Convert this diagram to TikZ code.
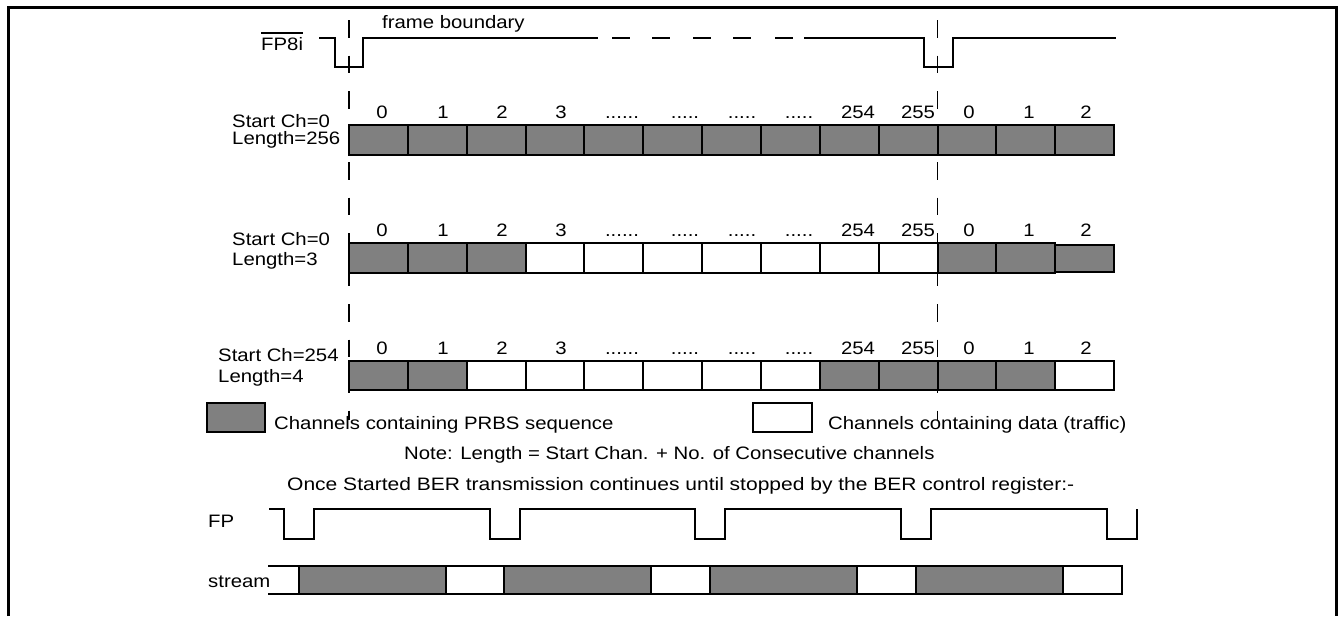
\documentclass[tikz,border=0pt]{standalone}
\usepackage{fontspec}
\setmainfont{Liberation Sans}[FakeStretch=1.13]
\definecolor{prbs}{RGB}{128,128,128}
\newcommand\dotsix{......}
\newcommand\dotfive{.....}
\tikzset{
  sig/.style={line width=2pt, line join=miter},
  cellp/.style={draw, fill=prbs, line width=2pt},
  celld/.style={draw, fill=white, line width=2pt},
  fbound/.style={line width=1.8pt, dash pattern=on 17.5pt off 18pt},
  txt/.style={anchor=base west, inner sep=0pt},
  num/.style={anchor=base, inner sep=0pt}
}
\begin{document}
\begin{tikzpicture}[x=1pt, y=-1pt, font=\fontsize{18}{20}\selectfont, line join=miter]
	\def\xo{349}\def\cw{58.85}\def\xf{937.5}
	\useasboundingbox (0,0) rectangle (1338,616);
	\draw[line width=3pt] (8,616) -- (8,7) -- (1336,7) -- (1336,616);
	% frame pulse
	\node[txt] (fpi) at (261,50) {FP8i};
	\draw[line width=1.5pt] ([yshift=4pt]fpi.north west) -- ([yshift=4pt]fpi.north east);
	\node[txt] (fbtxt) at (382,28) {frame boundary};
	\draw[sig] (319,38) -- (335,38) -- (335,67) -- (363,67) -- (363,38) -- (598,38);
	\foreach \x in {612,652,693,733,775} \draw[sig] (\x,38) -- ++(18,0);
	\draw[sig] (804,38) -- (923.5,38) -- (923.5,67) -- (953,67) -- (953,38) -- (1116,38);
	% channel rows
	\foreach \i in {0,...,12} \draw[cellp] ({\xo+\i*\cw},125) rectangle ++(\cw,30);
	\foreach \i in {0,1,2,10,11} \draw[cellp] ({\xo+\i*\cw},243) rectangle ++(\cw,30);
	\draw[cellp] ({\xo+12*\cw},245) rectangle ++(\cw,27);
	\foreach \i in {3,...,9} \draw[celld] ({\xo+\i*\cw},243) rectangle ++(\cw,30);
	\foreach \i in {0,1,8,9,10,11} \draw[cellp] ({\xo+\i*\cw},361) rectangle ++(\cw,29);
	\foreach \i in {2,...,7,12} \draw[celld] ({\xo+\i*\cw},361) rectangle ++(\cw,29);
	\foreach \r/\y in {a/118,b/236,c/354}
		\foreach \x/\t [count=\k] in {382/0,443/1,502/2,561/3,622/\dotsix,685/\dotfive,742/\dotfive,799/\dotfive,858/254,918/255,969/0,1029/1,1086/2}
			\node[num] (\r\k) at (\x,\y) {\t};
	\node[txt] (sa) at (232,127) {Start Ch=0};
	\node[txt] (la) at (232,144) {Length=256};
	\node[txt] (sb) at (232,245) {Start Ch=0};
	\node[txt] (lb) at (232,265) {Length=3};
	\node[txt] (sc) at (218,361) {Start Ch=254};
	\node[txt] (lc) at (218,382) {Length=4};
	% frame boundaries
	\draw[fbound] (\xo,20) -- (\xo,420);
	\draw[fbound] (\xf,20) -- (\xf,420);
	% key
	\draw[cellp] (207,403) rectangle (265,432);
	\node[txt] (kp) at (274,429) {Channels containing PRBS sequence};
	\draw[celld] (753,403) rectangle (812,432);
	\node[txt] (kd) at (828,429) {Channels containing data (traffic)};
	\node[txt] (note) at (404,459) {Note: Length = Start Chan. + No. of Consecutive channels};
	\node[txt] (once) at (287,490) {\scalebox{1.033}[1]{Once Started BER transmission continues until stopped by the BER control register:-}};
	% continuous transmission
	\node[txt] (fp) at (208,527) {FP};
	\draw[sig] (269,509) \foreach \p in {284,490,695,901,1107} { -- (\p,509) -- (\p,539) -- ({\p+29.5},539) -- ({\p+29.5},509) };
	\node[txt] (st) at (208,587) {stream};
	\foreach \a in {299,504,710,916} \draw[cellp] (\a,566) rectangle ++(147,28);
	\draw[sig] (268,566) -- (1122,566) -- (1122,594) -- (268,594);
\end{tikzpicture}
\end{document}
